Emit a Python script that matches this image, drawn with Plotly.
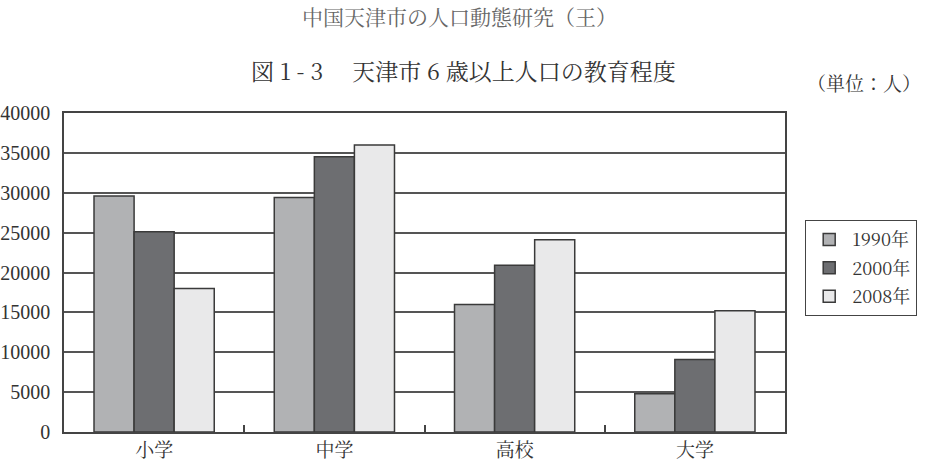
import plotly.graph_objects as go

categories = ["小学", "中学", "高校", "大学"]
series_names = ["1990年", "2000年", "2008年"]
values_1990 = [29600, 29400, 16000, 4800]
values_2000 = [25100, 34500, 20900, 9100]
values_2008 = [18000, 36000, 24100, 15200]
colors = ["#b1b2b4", "#6d6e71", "#e9e9ea"]
y_ticks = [0, 5000, 10000, 15000, 20000, 25000, 30000, 35000, 40000]

NUM = "Liberation Serif"
CJK = "Noto Serif CJK JP"

PL, PR, PT, PB = 64, 158, 113, 32
W, H = 943, 464
pw, ph = W - PL - PR, H - PT - PB
def px(xp):
    return (xp - PL) / pw
def py(yp):
    return (H - PB - yp) / ph

fig = go.Figure()
for name, vals, col in zip(series_names, [values_1990, values_2000, values_2008], colors):
    fig.add_trace(go.Bar(
        x=categories, y=vals, name=name, legendgroup=name,
        marker=dict(color=col, line=dict(color="#3a3a3a", width=1.5)),
    ))

fig.update_layout(
    width=W, height=H,
    margin=dict(l=PL, r=PR, t=PT, b=PB),
    paper_bgcolor="white", plot_bgcolor="white",
    barmode="group", bargap=0.333, bargroupgap=0,
    font=dict(family=CJK, size=16, color="#333333"),
    showlegend=True,
    legend=dict(
        x=px(805), y=py(220), xanchor="left", yanchor="top",
        bordercolor="#444444", borderwidth=1.2,
        font=dict(family=CJK, size=18, color="#333333"),
        bgcolor="white", traceorder="grouped", tracegroupgap=2, itemwidth=36,
    ),
    annotations=[
        dict(text="中国天津市の人口動態研究（王）", x=px(459), y=py(16), xref="paper", yref="paper",
             xanchor="center", yanchor="middle",
             showarrow=False, font=dict(family=CJK, size=21, color="#666666")),
        dict(text="図 1 - 3　 天津市 6 歳以上人口の教育程度", x=px(463), y=py(70), xref="paper", yref="paper",
             xanchor="center", yanchor="middle",
             showarrow=False, font=dict(family=CJK, size=23, color="#333333")),
        dict(text="（単位：人）", x=px(864), y=py(83), xref="paper", yref="paper",
             xanchor="center", yanchor="middle",
             showarrow=False, font=dict(family=CJK, size=19, color="#333333")),
    ],
)

fig.update_yaxes(
    range=[0, 40000], tickvals=y_ticks, ticktext=[str(v) for v in y_ticks],
    showgrid=True, gridcolor="#555555", gridwidth=1.5,
    showline=True, linecolor="#444444", linewidth=1.5, mirror=True,
    ticks="", tickfont=dict(family=NUM, size=20, color="#333333"),
    zeroline=False, ticklabelstandoff=8, automargin=False,
)
fig.update_xaxes(
    showline=True, linecolor="#444444", linewidth=1.5, mirror=True,
    ticks="inside", tickson="boundaries", ticklen=7, tickcolor="#444444", tickwidth=1.5,
    tickfont=dict(family=CJK, size=19, color="#333333"), ticklabelstandoff=0,
    automargin=False,
)

fig.write_html("out.html")
